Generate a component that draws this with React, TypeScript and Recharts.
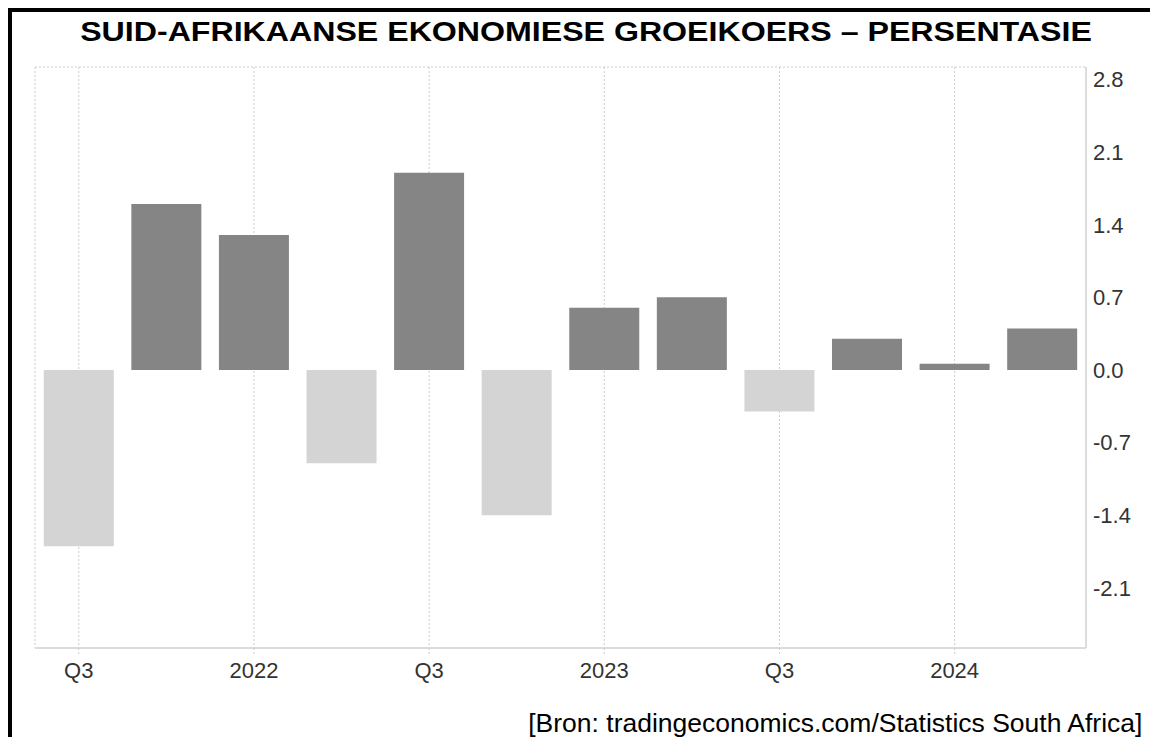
import React from "react";
import { Bar, BarChart, CartesianGrid, Cell, XAxis, YAxis } from "recharts";

const quarters = [
  "2021Q3", "2021Q4", "2022Q1", "2022Q2", "2022Q3", "2022Q4",
  "2023Q1", "2023Q2", "2023Q3", "2023Q4", "2024Q1", "2024Q2",
];
const growth = [-1.7, 1.6, 1.3, -0.9, 1.9, -1.4, 0.6, 0.7, -0.4, 0.3, 0.06, 0.4];
const tickQuarters = ["2021Q3", "2022Q1", "2022Q3", "2023Q1", "2023Q3", "2024Q1"];
const tickLabels = ["Q3", "2022", "Q3", "2023", "Q3", "2024"];
const yTicks = [-2.1, -1.4, -0.7, 0, 0.7, 1.4, 2.1, 2.8, 2.92];

const data = quarters.map((q, i) => ({ q, value: growth[i] }));

const POS = "#858585";
const NEG = "#d4d4d4";
const AXIS = "#dcdcdc";
const font = "Arial, 'Liberation Sans', Helvetica, sans-serif";

export default function App() {
  return (
    <div
      style={{
        position: "relative",
        width: 1146,
        height: 725,
        borderLeft: "4px solid #000",
        borderTop: "4px solid #000",
        fontFamily: font,
        overflow: "hidden",
      }}
    >
      <div
        style={{
          position: "absolute",
          left: 0,
          width: 1148,
          top: 5,
          textAlign: "center",
          fontSize: 27,
          fontWeight: 700,
          color: "#000",
          transform: "scaleX(1.19)",
          transformOrigin: "574px 0",
        }}
      >
        SUID-AFRIKAANSE EKONOMIESE GROEIKOERS – PERSENTASIE
      </div>
      <div style={{ position: "absolute", left: 0, top: 0 }}>
        <BarChart
          width={1146}
          height={700}
          data={data}
          margin={{ top: 55, right: 0, bottom: 24, left: 23 }}
          barCategoryGap="10%"
        >
          <CartesianGrid stroke="#cccccc" strokeDasharray="2 2" />
          <XAxis
            dataKey="q"
            ticks={tickQuarters}
            interval={0}
            tickFormatter={(v: string) => tickLabels[tickQuarters.indexOf(v)] ?? ""}
            axisLine={{ stroke: AXIS, strokeWidth: 2 }}
            tickLine={{ stroke: "#cccccc", strokeDasharray: "2 2" }}
            tickSize={6}
            tickMargin={8}
            height={40}
            tick={{ fill: "#333", fontSize: 22, fontFamily: font }}
          />
          <YAxis
            yAxisId="left"
            orientation="left"
            domain={[-2.68, 2.92]}
            ticks={yTicks}
            interval={0}
            width={0}
            tick={false}
            tickLine={false}
            axisLine={{ stroke: AXIS, strokeWidth: 2 }}
          />
          <YAxis
            yAxisId="right"
            orientation="right"
            domain={[-2.68, 2.92]}
            ticks={yTicks}
            interval={0}
            width={72}
            tickFormatter={(v: number) => (v > 2.85 ? "" : v.toFixed(1))}
            axisLine={{ stroke: AXIS, strokeWidth: 2 }}
            tickLine={false}
            tickMargin={1}
            tick={{ fill: "#333", fontSize: 22, fontFamily: font, textAnchor: "start" }}
          />
          <Bar dataKey="value" yAxisId="right" isAnimationActive={false}>
            {data.map((d) => (
              <Cell key={d.q} fill={d.value >= 0 ? POS : NEG} />
            ))}
          </Bar>
        </BarChart>
      </div>
      <div
        style={{
          position: "absolute",
          right: 16,
          top: 697,
          fontSize: 25,
          color: "#000",
          whiteSpace: "nowrap",
          transform: "scaleX(1.06)",
          transformOrigin: "right top",
        }}
      >
        [Bron: tradingeconomics.com/Statistics South Africa]
      </div>
    </div>
  );
}
